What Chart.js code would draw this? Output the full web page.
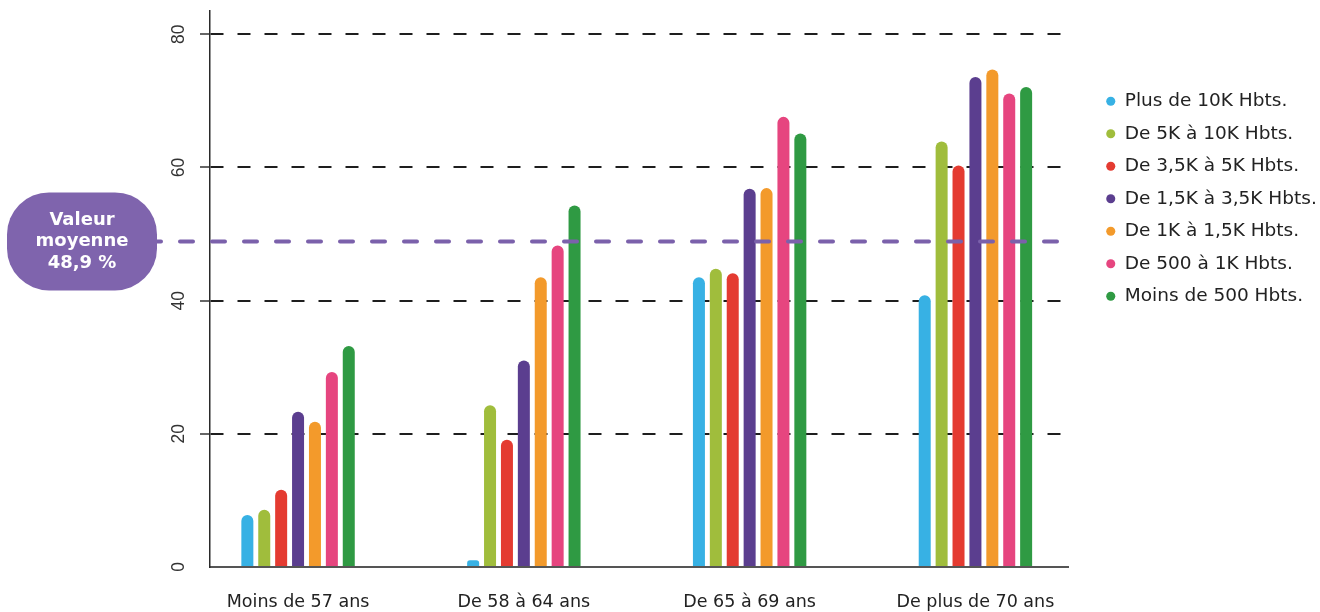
<!DOCTYPE html>
<html lang="fr">
<head>
<meta charset="utf-8">
<title>Valeur moyenne par tranche d'âge</title>
<script src="https://cdn.jsdelivr.net/npm/chart.js@4.4.1/dist/chart.umd.min.js"></script>
<style>
  html, body { margin: 0; padding: 0; background: #fff; }
  #wrap { width: 1320px; height: 612px; position: relative; }
</style>
</head>
<body>
<div id="wrap"><canvas id="chart"></canvas></div>
<script>
const categories = ['Moins de 57 ans', 'De 58 à 64 ans', 'De 65 à 69 ans', 'De plus de 70 ans'];
const seriesLabels = [
    'Plus de 10K Hbts.',
    'De 5K à 10K Hbts.',
    'De 3,5K à 5K Hbts.',
    'De 1,5K à 3,5K Hbts.',
    'De 1K à 1,5K Hbts.',
    'De 500 à 1K Hbts.',
    'Moins de 500 Hbts.'
];
const seriesColors = ['#37b1e4', '#a0bd3c', '#e43b31', '#5b3e8f', '#f39a2b', '#e6457f', '#2f9a43'];

const plus10k = [7.8, 1.0, 43.5, 40.8];
const de5kA10k = [8.6, 24.3, 44.8, 63.9];
const de35kA5k = [11.6, 19.1, 44.1, 60.3];
const de15kA35k = [23.3, 31.0, 56.8, 73.6];
const de1kA15k = [21.8, 43.5, 56.9, 74.7];
const de500A1k = [29.3, 48.3, 67.6, 71.1];
const moins500 = [33.2, 54.3, 65.1, 72.1];

const moyenne = 48.9;
const moyenneText = ['Valeur', 'moyenne', '48,9 %'];
const yTicks = [0, 20, 40, 60, 80];

const seriesValues = [plus10k, de5kA10k, de35kA5k, de15kA35k, de1kA15k, de500A1k, moins500];

const datasets = seriesLabels.map((label, s) => ({
    label: label,
    data: seriesValues[s].map((v, i) => ({ x: i, y: v })),
    backgroundColor: seriesColors[s],
    borderWidth: 0,
    borderRadius: 6,
    borderSkipped: 'start',
    categoryPercentage: 0.524,
    barPercentage: 0.71
}));

// dashed average line + purple bubble on the left
const meanPlugin = {
    id: 'meanLine',
    afterDatasetsDraw(chart) {
        const { ctx, chartArea, scales } = chart;
        const y = scales.y.getPixelForValue(moyenne);
        const left = chartArea.left;
        ctx.save();
        ctx.strokeStyle = '#7b61ab';
        ctx.lineWidth = 4;
        ctx.lineCap = 'round';
        ctx.setLineDash([13, 19]);
        ctx.beginPath();
        ctx.moveTo(left - 62, y);
        ctx.lineTo(chartArea.right - 2, y);
        ctx.stroke();

        ctx.setLineDash([]);
        ctx.fillStyle = '#7f64ad';
        ctx.beginPath();
        ctx.roundRect(left - 203, y - 49, 150, 98, 42);
        ctx.fill();

        ctx.fillStyle = '#ffffff';
        ctx.font = 'bold 18px "DejaVu Sans"';
        ctx.textAlign = 'center';
        ctx.textBaseline = 'alphabetic';
        const cx = left - 128;
        ctx.fillText(moyenneText[0], cx, y - 16);
        ctx.fillText(moyenneText[1], cx, y + 5);
        ctx.fillText(moyenneText[2], cx, y + 27);
        ctx.restore();
    }
};

const chart = new Chart(document.getElementById('chart'), {
    type: 'bar',
    data: { datasets: datasets },
    options: {
        responsive: true,
        maintainAspectRatio: false,
        animation: false,
        devicePixelRatio: 1,
        layout: { padding: { top: 11, right: 0, bottom: 0, left: 0 } },
        plugins: {
            tooltip: { enabled: false },
            legend: {
                position: 'right',
                align: 'start',
                maxWidth: 228,
                title: { display: true, text: '', font: { size: 10 }, padding: { top: 55, bottom: 0 } },
                labels: {
                    usePointStyle: true,
                    pointStyle: 'circle',
                    boxWidth: 9.5,
                    boxHeight: 6.4,
                    padding: 14,
                    color: '#222',
                    font: { family: '"DejaVu Sans"', size: 18.5 }
                }
            }
        },
        scales: {
            x: {
                type: 'linear',
                min: -0.39,
                max: 3.41,
                offset: false,
                afterBuildTicks: (s) => { s.ticks = categories.map((c, i) => ({ value: i })); },
                afterFit: (s) => { s.height = 45; s.paddingLeft = 0; s.paddingRight = 0; },
                ticks: {
                    callback: (v) => categories[v],
                    autoSkip: false,
                    maxRotation: 0,
                    padding: 25,
                    color: '#222',
                    font: { family: '"DejaVu Sans"', size: 17.5 }
                },
                grid: { display: false, drawTicks: false },
                border: { display: true, color: '#555', width: 2 }
            },
            y: {
                min: 0,
                max: 83.5,
                afterBuildTicks: (s) => { s.ticks = yTicks.map(v => ({ value: v })); },
                afterFit: (s) => { s.width = 210; s.paddingTop = 0; s.paddingBottom = 0; },
                ticks: {
                    autoSkip: false,
                    minRotation: 90,
                    maxRotation: 90,
                    crossAlign: 'center',
                    padding: 11,
                    color: '#333',
                    font: { family: '"Liberation Sans"', size: 17.5 }
                },
                grid: {
                    color: (c) => (c.tick && c.tick.value === 0 ? 'rgba(0,0,0,0)' : '#1e1e1e'),
                    lineWidth: 2,
                    tickLength: 10,
                    tickColor: (c) => (c.tick && c.tick.value === 0 ? 'rgba(0,0,0,0)' : '#333'),
                    tickWidth: 1.5
                },
                border: { display: true, color: '#2a2a2a', width: 1.5, dash: [13, 14] }
            },
            yPad: {
                type: 'linear',
                position: 'right',
                display: true,
                ticks: { display: false },
                grid: { display: false, drawTicks: false },
                border: { display: false },
                afterFit: (s) => { s.width = 24; }
            }
        }
    },
    plugins: [meanPlugin]
});
</script>
</body>
</html>
